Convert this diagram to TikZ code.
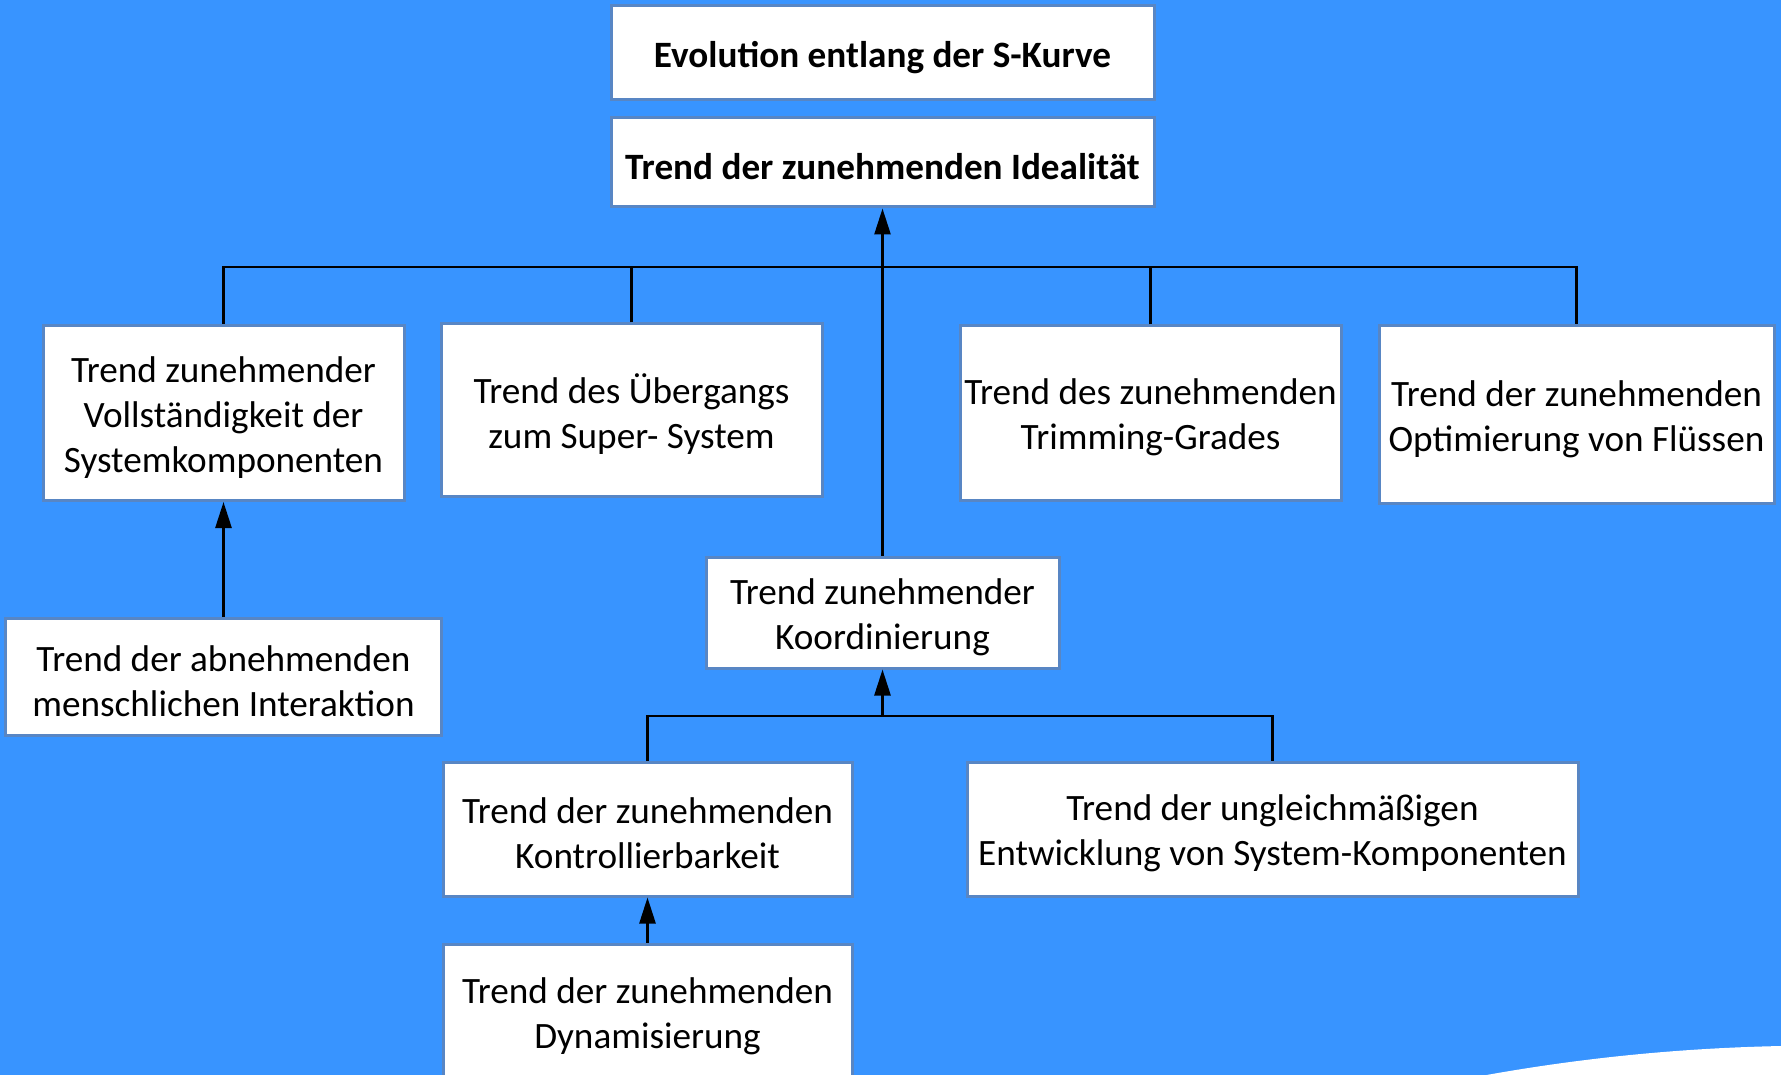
\documentclass[tikz,border=0pt]{standalone}
\usepackage{fontspec}
\setmainfont{Carlito}
\usetikzlibrary{arrows.meta}
\definecolor{bg}{HTML}{3894FF}
\definecolor{boxline}{HTML}{5886C4}
\tikzset{
  box/.style={draw=boxline, line width=3pt, fill=white, inner sep=0pt},
  txt/.style={align=center, inner sep=0pt, yshift=-4.5pt, font=\fontsize{37.2}{45}\selectfont},
  btxt/.style={txt, font=\fontsize{37.2}{45}\selectfont\bfseries},
  conn/.style={line width=2.6pt, black},
  arr/.style={conn, -{Triangle[length=26pt,width=16pt]}}
}
\begin{document}
\begin{tikzpicture}[x=1pt,y=-1pt]
\useasboundingbox (0,0) rectangle (1781,1075);
\fill[bg] (0,0) rectangle (1781,1075);
\fill[white] (1481,1076) .. controls (1580,1058) and (1680,1048) .. (1782,1046) -- (1782,1076) -- cycle;

\node[box, minimum width=543pt, minimum height=94pt, label={[btxt]center:{Evolution entlang der S-Kurve}}] (T1) at (882.5,53) {};
\node[box, minimum width=543pt, minimum height=89pt, label={[btxt]center:{Trend der zunehmenden Idealität}}] (T2) at (882.5,162.5) {};

\node[box, minimum width=361pt, minimum height=175pt, label={[txt]center:{Trend zunehmender\\Vollständigkeit der\\Systemkomponenten}}] (A) at (223.5,413) {};
\node[box, minimum width=381pt, minimum height=172pt, label={[txt]center:{Trend des Übergangs\\zum Super- System}}] (B) at (631.5,410) {};
\node[box, minimum width=381pt, minimum height=174pt, label={[txt]center:{Trend des zunehmenden\\Trimming-Grades}}] (D) at (1150.5,413) {};
\node[box, minimum width=395pt, minimum height=177pt, label={[txt]center:{Trend der zunehmenden\\Optimierung von Flüssen}}] (E) at (1576.5,414.5) {};

\node[box, minimum width=436pt, minimum height=117pt, label={[txt]center:{Trend der abnehmenden\\menschlichen Interaktion}}] (F) at (223.5,677) {};
\node[box, minimum width=353pt, minimum height=111pt, label={[txt]center:{Trend zunehmender\\Koordinierung}}] (G) at (882.5,612.5) {};

\node[box, minimum width=409pt, minimum height=134pt, label={[txt]center:{Trend der zunehmenden\\Kontrollierbarkeit}}] (H) at (647.5,829) {};
\node[box, minimum width=611pt, minimum height=134pt, label={[txt]center:{Trend der ungleichmäßigen\\Entwicklung von System-Komponenten}}] (I) at (1272.5,829) {};
\node[box, minimum width=409pt, minimum height=136pt, label={[txt]center:{Trend der zunehmenden\\Dynamisierung}}] (J) at (647.5,1012) {};

\coordinate (bus) at (882.5,267);
\coordinate (bus2) at (882.5,716);

\draw[conn] (A.north) -- (A.north |- bus) -- (E.north |- bus) -- (E.north);
\draw[conn] (B.north) -- (B.north |- bus);
\draw[conn] (D.north) -- (D.north |- bus);
\draw[arr] (G.north) -- (T2.south);

\draw[arr] (F.north) -- (A.south);

\draw[conn] (H.north) |- (bus2) -| (I.north);
\draw[arr] (bus2) -- (G.south);
\draw[arr] (J.north) -- (H.south);
\end{tikzpicture}
\end{document}
